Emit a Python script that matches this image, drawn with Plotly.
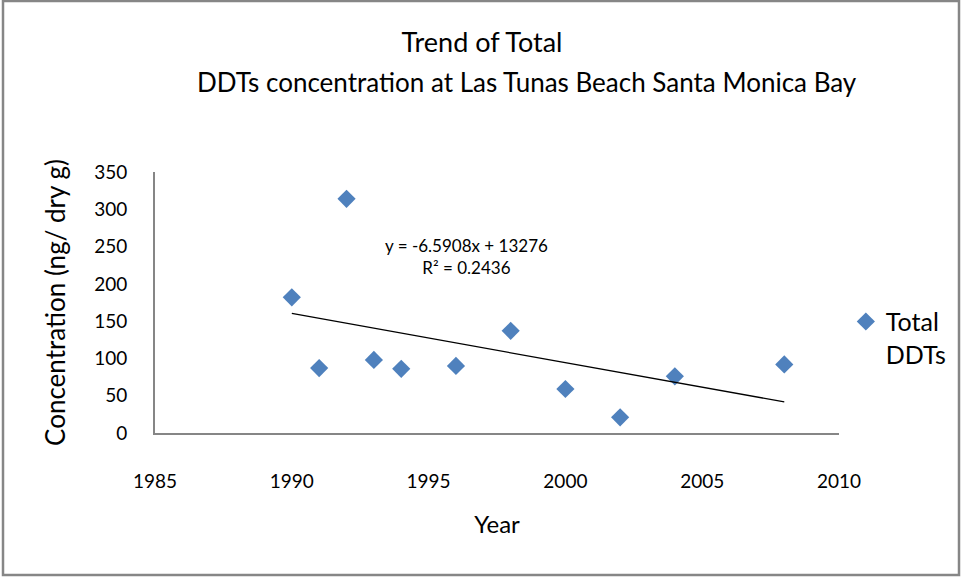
import plotly.graph_objects as go

# values
years = [1990, 1991, 1992, 1993, 1994, 1996, 1998, 2000, 2002, 2004, 2008]
total_ddts = [182, 87, 314, 98, 86, 90, 137, 59, 21, 76, 92]

# linear trend reported on the chart
slope = -6.5908
intercept = 13276
r_squared = 0.2436

title_line1 = "Trend of Total"
title_line2 = "DDTs concentration at Las Tunas Beach Santa Monica Bay"

font_name = "Lato"
axis_grey = "#868686"

# plot area in pixels (left, right, top, bottom)
pl, pr, pt, pb = 155, 839, 172, 433
pw, ph = pr - pl, pb - pt

def px(x):
    return (x - pl) / pw

def py(y):
    return (pb - y) / ph

trend_x = [min(years), max(years)]
trend_y = [slope * x + intercept for x in trend_x]

fig = go.Figure()
fig.add_trace(go.Scatter(
    x=years,
    y=total_ddts,
    mode="markers",
    name="Total<br>DDTs",
    marker=dict(symbol="diamond", size=14, color="#4F81BD"),
))
fig.add_trace(go.Scatter(
    x=trend_x,
    y=trend_y,
    mode="lines",
    line=dict(color="black", width=1.3),
    showlegend=False,
    hoverinfo="skip",
))

fig.add_annotation(
    x=1996.4, y=237,
    text=f"y = {slope}x + {intercept}<br>R² = {r_squared}",
    showarrow=False,
    font=dict(family=font_name, size=17, color="black"),
    align="center",
)

# second title line sits a bit right of the first one in the original
fig.add_annotation(
    x=px(527), y=py(82), xref="paper", yref="paper",
    text=title_line2, showarrow=False,
    xanchor="center", yanchor="middle",
    font=dict(family=font_name, size=26, color="black"),
)

# outer chart border
fig.add_shape(
    type="rect", xref="paper", yref="paper",
    x0=px(3), x1=px(959), y0=py(575), y1=py(1),
    line=dict(color=axis_grey, width=2.5),
    layer="below",
)

fig.update_layout(
    width=963, height=577,
    margin=dict(l=pl, r=963 - pr, t=pt, b=577 - pb),
    paper_bgcolor="white",
    plot_bgcolor="white",
    font=dict(family=font_name, size=19, color="black"),
    title=dict(
        text=title_line1,
        x=482 / 963, xref="container", xanchor="center",
        y=1 - 43 / 577, yref="container", yanchor="middle",
        font=dict(family=font_name, size=27, color="black"),
    ),
    legend=dict(
        x=1.01, y=0.365, xanchor="left", yanchor="middle",
        valign="top",
        font=dict(family=font_name, size=25, color="black"),
        bgcolor="rgba(0,0,0,0)",
    ),
    xaxis=dict(
        range=[1985, 2010], dtick=5, tick0=1985,
        showgrid=False, zeroline=False,
        showline=True, linecolor=axis_grey, linewidth=2,
        ticks="", ticklabelstandoff=30,
        title=dict(text="Year", standoff=25, font=dict(size=24)),
        automargin=False,
    ),
    yaxis=dict(
        range=[0, 350], dtick=50,
        showgrid=False, zeroline=False,
        showline=True, linecolor=axis_grey, linewidth=2,
        ticks="", ticklabelstandoff=22,
        title=dict(text="Concentration (ng/ dry g)", standoff=21, font=dict(size=26)),
        automargin=False,
    ),
)

fig.write_html(
    "out.html",
    config={"displayModeBar": False},
    post_script="document.body.style.margin='0';",
)
